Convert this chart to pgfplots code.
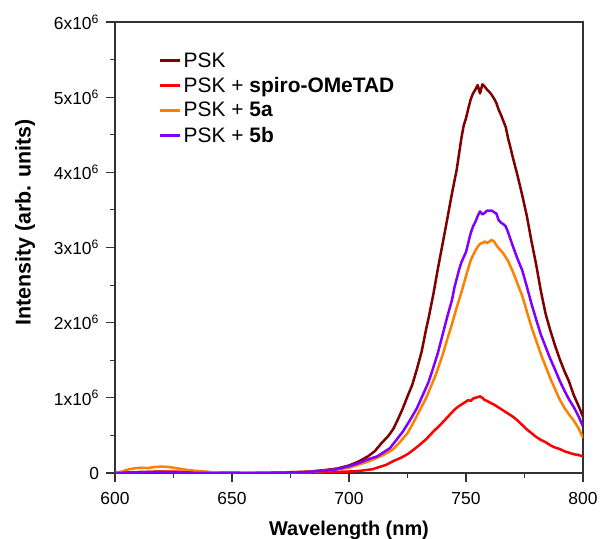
\documentclass[border=0pt]{standalone}
\usepackage{fontspec}
\setmainfont{Liberation Sans}
\usepackage{pgfplots}
\pgfplotsset{compat=1.18}
\definecolor{cPSK}{RGB}{128,0,0}
\definecolor{cSpiro}{RGB}{255,0,0}
\definecolor{cFiveA}{RGB}{255,128,0}
\definecolor{cFiveB}{RGB}{128,0,255}
\definecolor{axgray}{RGB}{50,50,50}
\pgfplotsset{
  sPSK/.style={draw=cPSK, line width=2.5bp, line join=round},
  sSpiro/.style={draw=cSpiro, line width=2.5bp, line join=round},
  sA/.style={draw=cFiveA, line width=2.5bp, line join=round},
  sB/.style={draw=cFiveB, line width=2.5bp, line join=round},
}
\begin{document}
\begin{tikzpicture}
\begin{axis}[
  at={(0,0)}, anchor=south west,
  scale only axis, width=468bp, height=451bp,
  xmin=600, xmax=800, ymin=0, ymax=6,
  xtick={600,650,...,800}, minor x tick num=1,
  ytick={0,1,...,6}, minor y tick num=1,
  yticklabels={0,1x10\textsuperscript{6},2x10\textsuperscript{6},3x10\textsuperscript{6},4x10\textsuperscript{6},5x10\textsuperscript{6},6x10\textsuperscript{6}},
  /pgf/number format/assume math mode=true,
  tick align=outside, tick pos=left,
  major tick length=8.5bp, minor tick length=4.5bp,
  axis line style={line width=1.3bp, draw=axgray},
  every tick/.style={line width=1.1bp, draw=axgray},
  tick label style={font=\fontsize{17.5}{20}\selectfont, text=black},
  xticklabel style={yshift=-7bp},
  yticklabel style={xshift=-4bp},
  xlabel={\textbf{Wavelength (nm)}},
  ylabel={\textbf{Intensity (arb. units)}},
  xlabel style={font=\fontsize{20}{24}\selectfont, yshift=-10bp},
  ylabel style={font=\fontsize{21.5}{25}\selectfont, yshift=12bp, xshift=25bp},
  legend cell align=left,
  legend style={draw=none, fill=none, at={(0.094,0.937)}, anchor=north west,
    font=\fontsize{21}{24}\selectfont, row sep=4.5bp, inner sep=0pt},
  legend image code/.code={\draw[#1] (0bp,0bp) -- (20bp,0bp);},
]
\addplot[sPSK] coordinates {
(600,0.0)(610,0.01)(620,0.015)(630,0.01)(640,0.005)(650,0.0)(660,0.0)(670,0.005)
(680,0.015)(685,0.025)(690,0.04)(695,0.06)(700,0.10)(704,0.15)(708,0.22)(711,0.29)
(714,0.40)(717,0.50)(719,0.59)(721,0.72)(723,0.86)(725,1.02)(727,1.17)(729,1.38)
(731,1.61)(733,1.92)(734,2.06)(736,2.37)(738,2.72)(740,3.05)(742,3.38)(744,3.72)
(746,4.03)(748,4.45)(749,4.62)(750,4.72)(751,4.85)(752,4.97)(753,5.05)(754,5.10)
(755,5.16)(756,5.05)(757,5.17)(758,5.14)(759,5.10)(760,5.07)(761,5.03)(762,4.98)
(763,4.92)(764,4.83)(765,4.76)(766,4.68)(767,4.60)(768,4.45)(769,4.33)(770,4.20)
(772,3.96)(774,3.70)(776,3.42)(778,3.08)(780,2.77)(782,2.42)(784,2.12)(786,1.90)
(788,1.70)(790,1.52)(792,1.36)(794,1.22)(796,1.04)(798,0.90)(800,0.75)
};
\addlegendentry{PSK}
\addplot[sSpiro] coordinates {
(600,0.0)(610,0.01)(620,0.02)(630,0.015)(640,0.01)(650,0.005)(660,0)(670,0)
(680,0.005)(690,0.01)(700,0.02)(705,0.03)(710,0.05)(713,0.08)(716,0.11)(719,0.16)
(722,0.20)(725,0.25)(728,0.32)(730,0.37)(733,0.45)(736,0.55)(739,0.64)(742,0.74)
(745,0.84)(747,0.89)(749,0.93)(751,0.97)(752,0.96)(753,0.99)(755,1.01)(756,1.02)
(757,1.00)(758,0.97)(759,0.96)(760,0.94)(762,0.91)(764,0.87)(766,0.83)(768,0.79)
(770,0.75)(772,0.70)(774,0.64)(776,0.58)(778,0.53)(780,0.48)(782,0.44)(784,0.41)
(786,0.37)(788,0.34)(790,0.32)(792,0.29)(794,0.27)(796,0.25)(798,0.24)(800,0.22)
};
\addlegendentry{PSK + \textbf{spiro-OMeTAD}}
\addplot[sA] coordinates {
(600,0.0)(603,0.02)(606,0.05)(609,0.065)(612,0.07)(614,0.065)(617,0.08)(620,0.085)
(623,0.08)(626,0.065)(630,0.045)(634,0.03)(638,0.02)(642,0.01)(646,0.005)(650,0.0)
(660,0.0)(670,0.005)(680,0.015)(685,0.02)(690,0.03)(695,0.05)(700,0.07)(704,0.11)
(708,0.15)(711,0.19)(714,0.23)(717,0.28)(719,0.32)(722,0.42)(725,0.53)(728,0.70)
(730,0.82)(733,1.00)(735,1.15)(737,1.30)(740,1.57)(742,1.78)(744,1.98)(746,2.20)
(748,2.40)(750,2.62)(752,2.83)(754,2.96)(755,3.01)(756,3.05)(757,3.06)(758,3.08)
(759,3.06)(760,3.08)(761,3.10)(762,3.08)(763,3.03)(764,2.99)(766,2.92)(768,2.82)
(770,2.68)(772,2.52)(774,2.36)(776,2.15)(778,1.94)(780,1.76)(782,1.58)(784,1.42)
(786,1.26)(788,1.12)(790,0.98)(792,0.87)(794,0.78)(796,0.70)(798,0.60)(800,0.47)
};
\addlegendentry{PSK + \textbf{5a}}
\addplot[sB] coordinates {
(600,0.0)(610,0.01)(620,0.01)(630,0.005)(640,0)(650,0)(660,0)(670,0.005)
(680,0.01)(685,0.02)(690,0.03)(695,0.05)(700,0.09)(704,0.13)(708,0.18)(712,0.22)
(715,0.28)(717.5,0.33)(720,0.43)(723,0.55)(726,0.70)(729,0.86)(731,1.0)(734,1.21)
(736,1.40)(738,1.60)(740,1.84)(742,2.08)(744,2.30)(745,2.46)(747,2.70)(748,2.80)
(750,2.94)(752,3.19)(753,3.28)(754,3.34)(755,3.42)(756,3.48)(757,3.44)(758,3.46)
(759,3.49)(760,3.49)(761,3.49)(762,3.47)(763,3.45)(764,3.36)(765,3.33)(766,3.31)
(767,3.28)(768,3.20)(770,3.02)(772,2.85)(774,2.70)(776,2.48)(778,2.25)(780,2.04)
(782,1.84)(784,1.68)(786,1.52)(788,1.38)(790,1.23)(792,1.10)(794,0.98)(796,0.88)
(798,0.76)(800,0.62)
};
\addlegendentry{PSK + \textbf{5b}}
\end{axis}
\pgfresetboundingbox
\path (-115bp,-66bp) rectangle (485bp,473bp);
\end{tikzpicture}
\end{document}
